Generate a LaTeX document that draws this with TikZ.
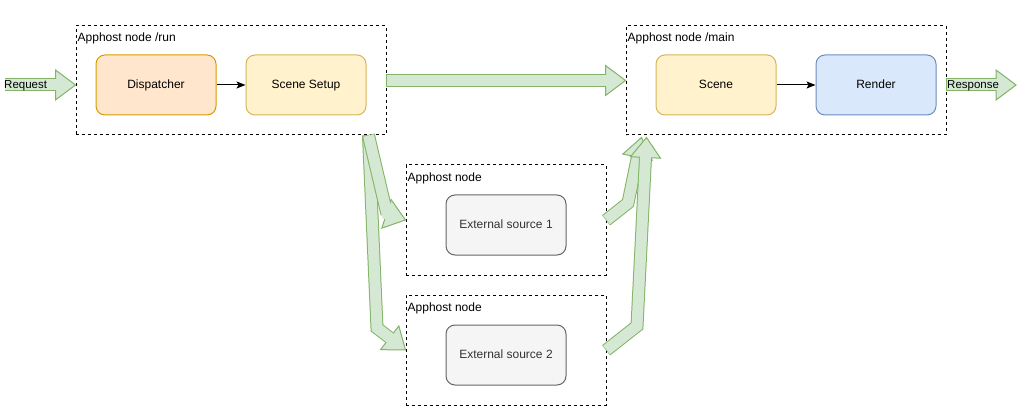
\documentclass[tikz,border=0pt]{standalone}
\usepackage{fontspec}
\setmainfont{Liberation Sans}
\usetikzlibrary{calc,arrows.meta}
\definecolor{afill}{HTML}{D5E8D4}
\definecolor{aline}{HTML}{82B366}
\definecolor{orfill}{HTML}{FFE6CC}
\definecolor{orline}{HTML}{D79B00}
\definecolor{yefill}{HTML}{FFF2CC}
\definecolor{yeline}{HTML}{D6B656}
\definecolor{blfill}{HTML}{DAE8FC}
\definecolor{blline}{HTML}{6C8EBF}
\definecolor{grfill}{HTML}{F5F5F5}
\definecolor{grline}{HTML}{666666}
\definecolor{grtext}{HTML}{333333}
\newcommand\flexarr[3]{%
  \coordinate (fahb) at ($(#3)!20pt!(#2)$);
  \draw[line width=13pt, aline, shorten <=-0.5pt] #1 -- (fahb);
  \filldraw[fill=afill, draw=aline, line width=1pt, line join=miter]
    (#3) -- ($(fahb)!15pt!90:(#3)$) -- ($(fahb)!15pt!-90:(#3)$) -- cycle;
  \draw[line width=11pt, afill] #1 -- ($(fahb)!1.5pt!(#3)$);
}
\begin{document}
\begin{tikzpicture}[x=1pt,y=-1pt,
  every node/.style={font=\fontsize{12}{14}\selectfont},
  container/.style={draw=black, line width=1pt, dash pattern=on 3pt off 3pt, inner sep=0pt},
  box/.style={rounded corners=9pt, line width=1pt, minimum width=120pt, minimum height=60pt, inner sep=0pt, text height=9pt, text depth=2.5pt},
  grp/.style={anchor=west, inner sep=0pt, text height=9pt, text depth=2.5pt},
  arrlabel/.style={anchor=west, inner sep=0pt, text height=8.5pt, text depth=2.5pt, font=\fontsize{11.5}{13}\selectfont},
  link/.style={draw=black, line width=1pt, -{Stealth[length=9pt,width=7pt,inset=2pt]}}
]
\useasboundingbox (0,0) rectangle (1025,414);
% containers
\node[container, minimum width=310pt, minimum height=109pt] (run) at (231,80.5) {};
\node[container, minimum width=320pt, minimum height=109pt] (main) at (786,80.5) {};
\node[container, minimum width=200pt, minimum height=110pt] (extc1) at (506,220) {};
\node[container, minimum width=200pt, minimum height=110pt] (extc2) at (506,350) {};
\node[grp] (runlab) at ($(run.north west)+(2,12.5)$) {Apphost node /run};
\node[grp] (mainlab) at ($(main.north west)+(2,12.5)$) {Apphost node /main};
\node[grp] (ext1lab) at ($(extc1.north west)+(2,13.5)$) {Apphost node};
\node[grp] (ext2lab) at ($(extc2.north west)+(2,13.5)$) {Apphost node};
% boxes
\node[box, draw=orline, fill=orfill] (disp) at (156,85) {Dispatcher};
\node[box, draw=yeline, fill=yefill] (setup) at (306,85) {Scene Setup};
\node[box, draw=yeline, fill=yefill] (scene) at (716,85) {Scene};
\node[box, draw=blline, fill=blfill] (render) at (876,85) {Render};
\node[box, draw=grline, fill=grfill, text=grtext] (ext1) at (506,225) {External source 1};
\node[box, draw=grline, fill=grfill, text=grtext] (ext2) at (506,355) {External source 2};
% thin connectors
\draw[link] (disp) -- (setup);
\draw[link] (scene) -- (render);
% flex arrows coordinates
\coordinate (reqs) at (5,85);
\coordinate (reqt) at (run.west |- disp);
\coordinate (resps) at (main.east |- render);
\coordinate (respt) at (1016,85);
\coordinate (rundown) at ($(run.south east)+(-18,0)$);
\coordinate (w1) at (387,214);
\coordinate (w2) at (377,328);
\coordinate (w3) at (628,203);
\coordinate (w4) at (637,326);
\coordinate (tip3) at ($(main.south west)+(16,2)$);
\coordinate (tip4) at ($(main.south west)+(21,2)$);
% flex arrows
\flexarr{(reqs)}{reqs}{reqt}
\flexarr{(resps)}{resps}{respt}
\flexarr{(run.east)}{run.east}{main.west}
\flexarr{(rundown) -- (w2)}{w2}{extc2.west}
\flexarr{(rundown) -- (w1)}{w1}{extc1.west}
\flexarr{(extc1.east) -- (w3)}{w3}{tip3}
\flexarr{(extc2.east) -- (w4)}{w4}{tip4}
% arrow labels
\node[arrlabel] (reqlab) at (4,86) {Request};
\node[arrlabel] (resplab) at (947,86) {Response};
\end{tikzpicture}
\end{document}
